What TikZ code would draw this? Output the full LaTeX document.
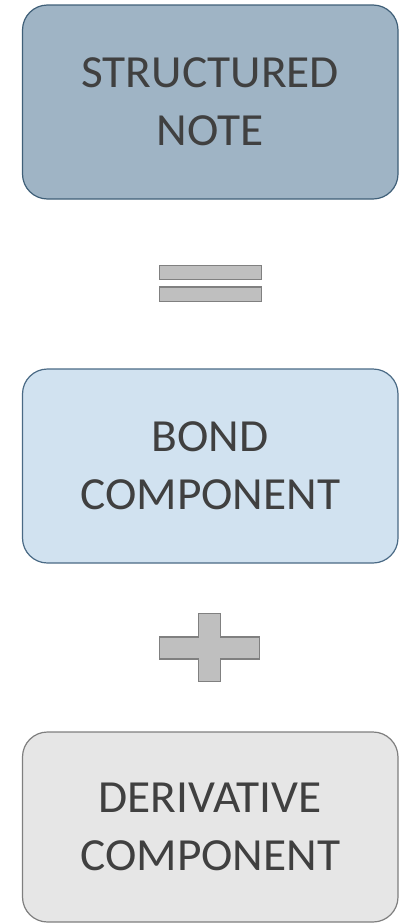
\documentclass[tikz,border=0pt]{standalone}
\usepackage{fontspec}
\setmainfont[FakeStretch=1.03]{Carlito}
\definecolor{txt}{HTML}{404040}
\definecolor{topfill}{HTML}{9FB4C5}
\definecolor{topdraw}{HTML}{3F5F78}
\definecolor{midfill}{HTML}{D1E2F0}
\definecolor{middraw}{HTML}{4A6A85}
\definecolor{botfill}{HTML}{E6E6E6}
\definecolor{botdraw}{HTML}{7F7F7F}
\definecolor{symfill}{HTML}{BFBFBF}
\definecolor{symdraw}{HTML}{808080}
\tikzset{
  box/.style={rectangle, rounded corners=25pt, line width=1.2pt, minimum width=375.5pt,
    inner sep=0pt, align=center, text=txt, font=\fontsize{46}{58}\selectfont},
  sym/.style={fill=symfill, draw=symdraw, line width=1.5pt}
}
\begin{document}
\begin{tikzpicture}[x=1pt,y=1pt]
\useasboundingbox (0,0) rectangle (403,-924);
\node[box, fill=topfill, draw=topdraw, minimum height=194pt] (sn) at (210.25,-102) {STRUCTURED\\NOTE};
\node[box, fill=midfill, draw=middraw, minimum height=194pt] (bc) at (210.25,-466) {BOND\\COMPONENT};
\node[box, fill=botfill, draw=botdraw, minimum height=190pt] (dc) at (210.25,-827) {DERIVATIVE\\COMPONENT};
% equals sign
\draw[sym] (159.5,-265.5) rectangle (261.5,-279.5);
\draw[sym] (159.5,-287) rectangle (261.5,-301.5);
% plus sign
\draw[sym] (198.5,-613.5) -- (220.5,-613.5) -- (220.5,-637) -- (259.5,-637) -- (259.5,-659)
  -- (220.5,-659) -- (220.5,-681.5) -- (198.5,-681.5) -- (198.5,-659) -- (159.5,-659)
  -- (159.5,-637) -- (198.5,-637) -- cycle;
\end{tikzpicture}
\end{document}
